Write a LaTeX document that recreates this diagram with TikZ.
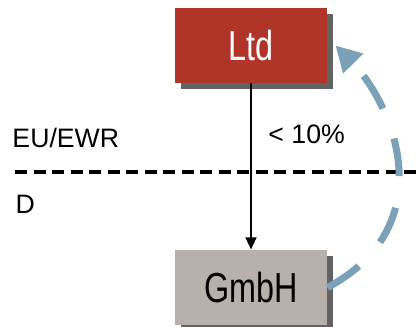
\documentclass[tikz,border=0pt]{standalone}
\usepackage{fontspec}
\setmainfont{Liberation Sans}
\newfontfamily\boxfont[FakeStretch=0.77]{Liberation Sans}
\usetikzlibrary{shadows,arrows.meta,calc}

\definecolor{ltdred}{RGB}{176,52,39}
\definecolor{gmbhgray}{RGB}{184,176,170}
\definecolor{shadowgray}{RGB}{99,99,102}
\definecolor{loopblue}{RGB}{123,161,184}

\tikzset{every picture/.style={line width=0.75pt}}
\tikzset{
  company/.style={minimum width=114pt, minimum height=56.25pt, inner sep=0pt,
    font=\boxfont\fontsize{31.5}{36}\selectfont,
    drop shadow={shadow xshift=4.5pt, shadow yshift=-4.5pt, fill=shadowgray, opacity=1}},
  region/.style={inner sep=0pt, anchor=west, font=\fontsize{20}{24}\selectfont},
  divider/.style={line width=2.6pt, dash pattern=on 9pt off 4.9pt},
  owns/.style={line width=1.7pt, -{Triangle[length=9pt, width=8pt]}},
  loopback/.style={loopblue, line width=5.25pt, dash pattern=on 28.5pt off 24pt,
    -{Triangle[length=19pt, width=20pt]}}
}

\begin{document}
\begin{tikzpicture}[x=0.75pt,y=0.75pt,yscale=-1,xscale=1]
\useasboundingbox (0,0) rectangle (419,327);

% Border line
\coordinate (divL) at (15,172);
\coordinate (divR) at (419,172);
\draw [divider] (divL) -- (divR);

% Companies
\node [company, fill=ltdred, text=white] (ltd) at (251,45.5) {Ltd};
\node [company, fill=gmbhgray] (gmbh) at (251,287.5) {GmbH};

% Text Node
\node [region] (eu) at (12,138) {EU/EWR};
% Text Node
\node [region] (de) at (15,204) {D};

% Shareholding
\draw [owns] (ltd) -- (gmbh);
% Text Node
\node [region] (share) at (268,134) {< 10\%};

% Loop back
\draw [loopback] (gmbh.east) .. controls (444,225) and (393,104) .. ($(ltd.east)+(8,0)$);

\end{tikzpicture}
\end{document}
